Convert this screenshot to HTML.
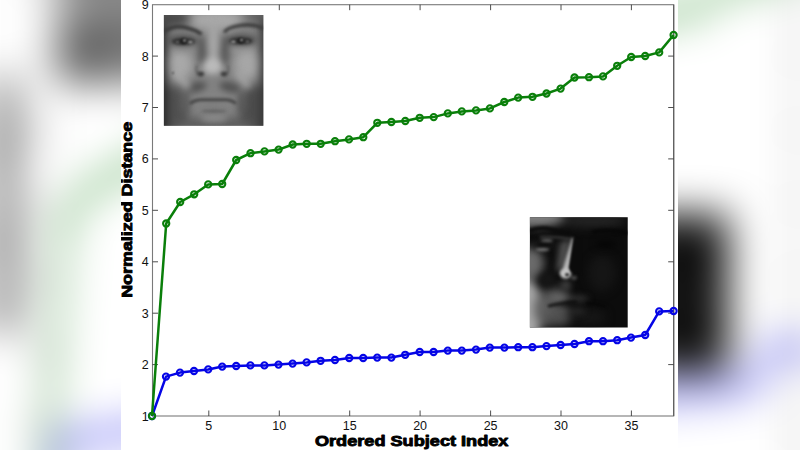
<!DOCTYPE html>
<html lang="en"><head><meta charset="utf-8"><title>Normalized Distance vs Ordered Subject Index</title>
<style>
html,body{margin:0;padding:0;background:#fff}
body{width:800px;height:450px;overflow:hidden;position:relative;font-family:"Liberation Sans",sans-serif}
.stage{position:absolute;left:0;top:0;width:800px;height:450px;overflow:hidden;background:#fff}
.bg{position:absolute;left:0;top:-98.2px;width:800px;height:646.3px;overflow:visible;filter:blur(21px);--lw:3.6;--mw:3}
.fg{position:absolute;left:121px;top:0;width:557px;height:450px;overflow:hidden}
</style></head>
<body>
<div class="stage">
<svg width="0" height="0" style="position:absolute"><defs>
<filter color-interpolation-filters="sRGB" id="b1" x="-20%" y="-20%" width="140%" height="140%"><feGaussianBlur color-interpolation-filters="sRGB" stdDeviation="1.6"/></filter>
<filter color-interpolation-filters="sRGB" id="b2" x="-20%" y="-20%" width="140%" height="140%"><feGaussianBlur color-interpolation-filters="sRGB" stdDeviation="3"/></filter>
<filter color-interpolation-filters="sRGB" id="b3" x="-20%" y="-20%" width="140%" height="140%"><feGaussianBlur color-interpolation-filters="sRGB" stdDeviation="5"/></filter>
<filter color-interpolation-filters="sRGB" id="b0" x="-20%" y="-20%" width="140%" height="140%"><feGaussianBlur color-interpolation-filters="sRGB" stdDeviation="0.8"/></filter>
<clipPath id="c1"><rect x="0" y="0" width="99.4" height="110.6"/></clipPath>
<clipPath id="c2"><rect x="0" y="0" width="97.8" height="110.4"/></clipPath>
<g id="chart">
<rect x="0" y="-1" width="557" height="452" fill="#fff"/>
<g transform="translate(42.9,15.1)"><g clip-path="url(#c1)">
<rect x="-2" y="-2" width="104" height="115" fill="#828282"/>
<g filter="url(#b3)">
<ellipse cx="52" cy="5" rx="26" ry="11" fill="#a8a8a8"/>
<ellipse cx="16" cy="49" rx="13" ry="16" fill="#a8a8a8"/>
<ellipse cx="83" cy="49" rx="13" ry="16" fill="#a6a6a6"/>
<ellipse cx="8" cy="94" rx="17" ry="24" fill="#505050"/>
<ellipse cx="92" cy="94" rx="17" ry="24" fill="#4c4c4c"/>
<ellipse cx="50" cy="109" rx="40" ry="6.5" fill="#585858"/>
<rect x="-9" y="-5" width="12" height="125" fill="#242424"/>
<rect x="96.5" y="-5" width="12" height="125" fill="#343434"/>
<ellipse cx="4" cy="3" rx="22" ry="9" fill="#484848"/>
<ellipse cx="96" cy="1" rx="14" ry="6" fill="#5c5c5c"/>
</g>
<g filter="url(#b2)">
<ellipse cx="49.5" cy="28" rx="5.5" ry="20" fill="#a6a6a6"/>
<ellipse cx="38" cy="36" rx="3.8" ry="15" fill="#565656"/>
<ellipse cx="61" cy="36" rx="3.8" ry="15" fill="#565656"/>
<ellipse cx="48.5" cy="51" rx="10" ry="8.5" fill="#bababa"/>
<ellipse cx="19" cy="25.5" rx="15" ry="5.5" fill="#4c4c4c"/>
<ellipse cx="78" cy="25" rx="15" ry="5.5" fill="#4c4c4c"/>
<ellipse cx="32" cy="72" rx="11" ry="5" fill="#525252" transform="rotate(-14 32 72)"/><ellipse cx="66" cy="72" rx="11" ry="5" fill="#525252" transform="rotate(14 66 72)"/>
<path d="M12 58 L26 73" stroke="#a8a8a8" stroke-width="4.5" fill="none"/><path d="M22 78 Q19 86 20 96" stroke="#5e5e5e" stroke-width="6" fill="none"/>
<path d="M73 57 L85 72" stroke="#a8a8a8" stroke-width="4.5" fill="none"/><path d="M77 78 Q80 86 79 96" stroke="#5a5a5a" stroke-width="6" fill="none"/>
<ellipse cx="50" cy="103" rx="14" ry="4.5" fill="#8a8a8a"/><ellipse cx="49" cy="90" rx="15" ry="2.6" fill="#7c7c7c"/>
<ellipse cx="49" cy="80.5" rx="19" ry="2.6" fill="#848484"/>
<ellipse cx="20" cy="35" rx="12" ry="2.5" fill="#8e8e8e"/>
<ellipse cx="78" cy="34.5" rx="12" ry="2.5" fill="#9a9a9a"/>
</g>
<g filter="url(#b1)">
<path d="M0 16.5 Q10 9.5 22 12.5 T37.5 19.5" stroke="#3a3a3a" stroke-width="3.8" fill="none"/>
<path d="M100 13.6 Q90 8 76 10.4 T60.5 17.5" stroke="#3e3e3e" stroke-width="3.8" fill="none"/>
<ellipse cx="19.5" cy="26.4" rx="11.5" ry="2.9" fill="#2a2a2a"/>
<ellipse cx="77" cy="25.8" rx="11.5" ry="2.9" fill="#2a2a2a"/>
<ellipse cx="36.5" cy="59" rx="3.6" ry="2.4" fill="#363636"/>
<ellipse cx="60.5" cy="59" rx="3.6" ry="2.4" fill="#363636"/>
<path d="M33 50 Q31 58 36 61" stroke="#555" stroke-width="1.6" fill="none"/>
<path d="M64 50 Q66 58 61 61" stroke="#555" stroke-width="1.6" fill="none"/>
<path d="M26 88.6 Q31 84.6 38 84.7 L61 84.7 Q68 84.6 72 88.6" stroke="#3a3a3a" stroke-width="2.6" fill="none"/>
<ellipse cx="50" cy="96" rx="13" ry="1.6" fill="#626262"/>
</g>
<g filter="url(#b0)">
<circle cx="19.7" cy="26" r="2.9" fill="#1c1c1c"/><circle cx="76.8" cy="25.5" r="2.9" fill="#1c1c1c"/>
<ellipse cx="26.5" cy="27" rx="2.4" ry="1.3" fill="#9a9a9a"/><ellipse cx="69.5" cy="26.6" rx="2.4" ry="1.3" fill="#9a9a9a"/>
<ellipse cx="13.5" cy="27" rx="1.8" ry="1.1" fill="#707070"/><ellipse cx="83.5" cy="26.6" rx="1.8" ry="1.1" fill="#707070"/>
<circle cx="20.6" cy="25.4" r="1.1" fill="#eee"/><circle cx="77.6" cy="24.9" r="1.1" fill="#eee"/>
<circle cx="9" cy="58" r="1.1" fill="#484848"/>
</g>
</g></g>
<g transform="translate(408.9,217.2)"><g clip-path="url(#c2)">
<rect x="-2" y="-2" width="102" height="115" fill="#0c0c0c"/>
<g filter="url(#b3)">
<ellipse cx="62" cy="3" rx="34" ry="7" fill="#242424"/>
<ellipse cx="72" cy="56" rx="14" ry="18" fill="#151515"/>
<ellipse cx="60" cy="100" rx="16" ry="8" fill="#161616"/>
<ellipse cx="4" cy="0" rx="30" ry="10" fill="#808080"/>
<ellipse cx="0" cy="46" rx="14" ry="16" fill="#6a6a6a"/>
<ellipse cx="-4" cy="94" rx="17" ry="32" fill="#a8a8a8"/>
<ellipse cx="16" cy="92" rx="12" ry="18" fill="#606060"/>
<ellipse cx="25" cy="78" rx="12" ry="8" fill="#505050"/>
<ellipse cx="27" cy="101" rx="14" ry="8" fill="#505050"/>
</g>
<g filter="url(#b2)">
<path d="M30 25 L41 22 L36 52 L26 54 Z" fill="#505050"/>
<ellipse cx="31" cy="80.5" rx="12" ry="3.2" fill="#6c6c6c"/><ellipse cx="47" cy="81.5" rx="12" ry="2.6" fill="#3a3a3a"/>
<ellipse cx="32" cy="94" rx="11" ry="3.4" fill="#585858"/><ellipse cx="46" cy="94" rx="10" ry="3" fill="#2c2c2c"/>
<ellipse cx="36" cy="68" rx="5" ry="5" fill="#444"/>
<ellipse cx="14" cy="27.5" rx="11" ry="4.5" fill="#1a1a1a"/>
<ellipse cx="18" cy="62" rx="8" ry="7" fill="#161616"/>
<ellipse cx="76" cy="27" rx="11" ry="4" fill="#060606"/>
</g>
<g filter="url(#b1)">
<path d="M-1 14 Q10 9.5 20 12 T38 17.5" stroke="#0c0c0c" stroke-width="4.6" fill="none"/>
<path d="M62 15 Q78 11 98 16" stroke="#070707" stroke-width="4" fill="none"/>
<path d="M10 20 Q24 18.6 40 22" stroke="#3a3a3a" stroke-width="2.2" fill="none"/><ellipse cx="17" cy="23.6" rx="6" ry="1.5" fill="#6a6a6a"/>
<ellipse cx="14.5" cy="27.3" rx="7.5" ry="2.7" fill="#0e0e0e"/>
<ellipse cx="12.5" cy="32.4" rx="7" ry="1.6" fill="#7a7a7a"/>
<path d="M18 89 Q30 86 47 84.5" stroke="#0c0c0c" stroke-width="2.6" fill="none"/>
<path d="M56 86 Q66 86 76 89" stroke="#060606" stroke-width="2.2" fill="none"/>
<path d="M42 20.5 L43.6 20.5 L39.2 52 L32.6 52.5 Z" fill="#b6b6b6"/>
<ellipse cx="35.6" cy="56" rx="5.8" ry="5.4" fill="#c4c4c4"/>
<ellipse cx="44" cy="60.5" rx="3" ry="2" fill="#4a4a4a"/>
</g>
<g filter="url(#b0)">
<ellipse cx="37.2" cy="57.6" rx="2.1" ry="1.8" fill="#2a2a2a"/>
<path d="M44.6 20 L39.6 50 L42 55 L52 56 L52 20 Z" fill="#0b0b0b"/>
</g>
</g></g>
<rect x="31.5" y="4.7" width="521.2" height="411.3" fill="none" stroke="#7a7a7a" stroke-width="1.1"/>
<path d="M552.7 4.7V416.0" stroke="#5a5a5a" stroke-width="1.1" fill="none"/>
<g stroke="#3a3a3a" stroke-width="0.9" fill="none"><path d="M87.8 416.0v-5.5M87.8 4.7v5.5"/><path d="M158.3 416.0v-5.5M158.3 4.7v5.5"/><path d="M228.7 416.0v-5.5M228.7 4.7v5.5"/><path d="M299.1 416.0v-5.5M299.1 4.7v5.5"/><path d="M369.6 416.0v-5.5M369.6 4.7v5.5"/><path d="M440.0 416.0v-5.5M440.0 4.7v5.5"/><path d="M510.4 416.0v-5.5M510.4 4.7v5.5"/><path d="M31.5 364.6h5.5M552.7 364.6h-5.5"/><path d="M31.5 313.2h5.5M552.7 313.2h-5.5"/><path d="M31.5 261.8h5.5M552.7 261.8h-5.5"/><path d="M31.5 210.3h5.5M552.7 210.3h-5.5"/><path d="M31.5 158.9h5.5M552.7 158.9h-5.5"/><path d="M31.5 107.5h5.5M552.7 107.5h-5.5"/><path d="M31.5 56.1h5.5M552.7 56.1h-5.5"/></g>
<polyline points="31.0,416.0 45.0,376.6 59.0,372.6 73.0,371.0 87.2,369.4 101.2,366.6 115.2,366.0 129.4,365.4 143.4,365.4 157.5,364.6 171.6,363.6 185.6,362.4 199.6,360.8 214.0,360.0 228.2,358.0 242.2,358.0 256.2,357.6 270.4,357.6 284.2,354.8 298.7,352.0 312.6,352.0 326.8,350.6 340.8,350.6 355.0,349.6 368.8,347.6 383.4,347.6 397.2,347.2 411.4,347.2 425.5,346.1 439.6,345.0 453.5,344.0 468.0,341.2 482.0,341.2 496.2,340.2 510.0,337.6 524.2,335.0 538.2,311.4 552.6,311.0" fill="none" stroke="#0505e6" style="stroke-width:var(--lw,2.5)" stroke-linejoin="round"/>
<circle cx="31.0" cy="416.0" r="3.1" fill="none" stroke="#0505e6" style="stroke-width:var(--mw,2.1)"/><circle cx="45.0" cy="376.6" r="3.1" fill="none" stroke="#0505e6" style="stroke-width:var(--mw,2.1)"/><circle cx="59.0" cy="372.6" r="3.1" fill="none" stroke="#0505e6" style="stroke-width:var(--mw,2.1)"/><circle cx="73.0" cy="371.0" r="3.1" fill="none" stroke="#0505e6" style="stroke-width:var(--mw,2.1)"/><circle cx="87.2" cy="369.4" r="3.1" fill="none" stroke="#0505e6" style="stroke-width:var(--mw,2.1)"/><circle cx="101.2" cy="366.6" r="3.1" fill="none" stroke="#0505e6" style="stroke-width:var(--mw,2.1)"/><circle cx="115.2" cy="366.0" r="3.1" fill="none" stroke="#0505e6" style="stroke-width:var(--mw,2.1)"/><circle cx="129.4" cy="365.4" r="3.1" fill="none" stroke="#0505e6" style="stroke-width:var(--mw,2.1)"/><circle cx="143.4" cy="365.4" r="3.1" fill="none" stroke="#0505e6" style="stroke-width:var(--mw,2.1)"/><circle cx="157.5" cy="364.6" r="3.1" fill="none" stroke="#0505e6" style="stroke-width:var(--mw,2.1)"/><circle cx="171.6" cy="363.6" r="3.1" fill="none" stroke="#0505e6" style="stroke-width:var(--mw,2.1)"/><circle cx="185.6" cy="362.4" r="3.1" fill="none" stroke="#0505e6" style="stroke-width:var(--mw,2.1)"/><circle cx="199.6" cy="360.8" r="3.1" fill="none" stroke="#0505e6" style="stroke-width:var(--mw,2.1)"/><circle cx="214.0" cy="360.0" r="3.1" fill="none" stroke="#0505e6" style="stroke-width:var(--mw,2.1)"/><circle cx="228.2" cy="358.0" r="3.1" fill="none" stroke="#0505e6" style="stroke-width:var(--mw,2.1)"/><circle cx="242.2" cy="358.0" r="3.1" fill="none" stroke="#0505e6" style="stroke-width:var(--mw,2.1)"/><circle cx="256.2" cy="357.6" r="3.1" fill="none" stroke="#0505e6" style="stroke-width:var(--mw,2.1)"/><circle cx="270.4" cy="357.6" r="3.1" fill="none" stroke="#0505e6" style="stroke-width:var(--mw,2.1)"/><circle cx="284.2" cy="354.8" r="3.1" fill="none" stroke="#0505e6" style="stroke-width:var(--mw,2.1)"/><circle cx="298.7" cy="352.0" r="3.1" fill="none" stroke="#0505e6" style="stroke-width:var(--mw,2.1)"/><circle cx="312.6" cy="352.0" r="3.1" fill="none" stroke="#0505e6" style="stroke-width:var(--mw,2.1)"/><circle cx="326.8" cy="350.6" r="3.1" fill="none" stroke="#0505e6" style="stroke-width:var(--mw,2.1)"/><circle cx="340.8" cy="350.6" r="3.1" fill="none" stroke="#0505e6" style="stroke-width:var(--mw,2.1)"/><circle cx="355.0" cy="349.6" r="3.1" fill="none" stroke="#0505e6" style="stroke-width:var(--mw,2.1)"/><circle cx="368.8" cy="347.6" r="3.1" fill="none" stroke="#0505e6" style="stroke-width:var(--mw,2.1)"/><circle cx="383.4" cy="347.6" r="3.1" fill="none" stroke="#0505e6" style="stroke-width:var(--mw,2.1)"/><circle cx="397.2" cy="347.2" r="3.1" fill="none" stroke="#0505e6" style="stroke-width:var(--mw,2.1)"/><circle cx="411.4" cy="347.2" r="3.1" fill="none" stroke="#0505e6" style="stroke-width:var(--mw,2.1)"/><circle cx="425.5" cy="346.1" r="3.1" fill="none" stroke="#0505e6" style="stroke-width:var(--mw,2.1)"/><circle cx="439.6" cy="345.0" r="3.1" fill="none" stroke="#0505e6" style="stroke-width:var(--mw,2.1)"/><circle cx="453.5" cy="344.0" r="3.1" fill="none" stroke="#0505e6" style="stroke-width:var(--mw,2.1)"/><circle cx="468.0" cy="341.2" r="3.1" fill="none" stroke="#0505e6" style="stroke-width:var(--mw,2.1)"/><circle cx="482.0" cy="341.2" r="3.1" fill="none" stroke="#0505e6" style="stroke-width:var(--mw,2.1)"/><circle cx="496.2" cy="340.2" r="3.1" fill="none" stroke="#0505e6" style="stroke-width:var(--mw,2.1)"/><circle cx="510.0" cy="337.6" r="3.1" fill="none" stroke="#0505e6" style="stroke-width:var(--mw,2.1)"/><circle cx="524.2" cy="335.0" r="3.1" fill="none" stroke="#0505e6" style="stroke-width:var(--mw,2.1)"/><circle cx="538.2" cy="311.4" r="3.1" fill="none" stroke="#0505e6" style="stroke-width:var(--mw,2.1)"/><circle cx="552.6" cy="311.0" r="3.1" fill="none" stroke="#0505e6" style="stroke-width:var(--mw,2.1)"/>
<polyline points="31.0,416.0 45.2,223.5 59.2,202.0 73.2,194.3 87.2,184.4 101.2,184.0 115.2,160.0 129.5,153.2 143.5,151.4 157.6,149.6 171.7,144.5 185.7,143.8 199.7,143.8 214.0,141.2 228.0,139.4 242.3,137.2 256.3,122.8 270.4,122.0 284.3,121.0 298.7,117.8 312.7,117.1 326.8,113.4 340.8,111.4 355.0,110.4 368.9,108.4 383.3,102.0 397.2,97.6 411.5,96.8 425.5,93.5 439.6,88.6 453.5,77.5 468.0,77.2 482.0,76.4 496.2,65.8 510.2,57.0 524.2,56.0 538.2,52.4 552.6,35.0" fill="none" stroke="#0a7f0a" style="stroke-width:var(--lw,2.5)" stroke-linejoin="round"/>
<circle cx="31.0" cy="416.0" r="3.1" fill="none" stroke="#0a7f0a" style="stroke-width:var(--mw,2.1)"/><circle cx="45.2" cy="223.5" r="3.1" fill="none" stroke="#0a7f0a" style="stroke-width:var(--mw,2.1)"/><circle cx="59.2" cy="202.0" r="3.1" fill="none" stroke="#0a7f0a" style="stroke-width:var(--mw,2.1)"/><circle cx="73.2" cy="194.3" r="3.1" fill="none" stroke="#0a7f0a" style="stroke-width:var(--mw,2.1)"/><circle cx="87.2" cy="184.4" r="3.1" fill="none" stroke="#0a7f0a" style="stroke-width:var(--mw,2.1)"/><circle cx="101.2" cy="184.0" r="3.1" fill="none" stroke="#0a7f0a" style="stroke-width:var(--mw,2.1)"/><circle cx="115.2" cy="160.0" r="3.1" fill="none" stroke="#0a7f0a" style="stroke-width:var(--mw,2.1)"/><circle cx="129.5" cy="153.2" r="3.1" fill="none" stroke="#0a7f0a" style="stroke-width:var(--mw,2.1)"/><circle cx="143.5" cy="151.4" r="3.1" fill="none" stroke="#0a7f0a" style="stroke-width:var(--mw,2.1)"/><circle cx="157.6" cy="149.6" r="3.1" fill="none" stroke="#0a7f0a" style="stroke-width:var(--mw,2.1)"/><circle cx="171.7" cy="144.5" r="3.1" fill="none" stroke="#0a7f0a" style="stroke-width:var(--mw,2.1)"/><circle cx="185.7" cy="143.8" r="3.1" fill="none" stroke="#0a7f0a" style="stroke-width:var(--mw,2.1)"/><circle cx="199.7" cy="143.8" r="3.1" fill="none" stroke="#0a7f0a" style="stroke-width:var(--mw,2.1)"/><circle cx="214.0" cy="141.2" r="3.1" fill="none" stroke="#0a7f0a" style="stroke-width:var(--mw,2.1)"/><circle cx="228.0" cy="139.4" r="3.1" fill="none" stroke="#0a7f0a" style="stroke-width:var(--mw,2.1)"/><circle cx="242.3" cy="137.2" r="3.1" fill="none" stroke="#0a7f0a" style="stroke-width:var(--mw,2.1)"/><circle cx="256.3" cy="122.8" r="3.1" fill="none" stroke="#0a7f0a" style="stroke-width:var(--mw,2.1)"/><circle cx="270.4" cy="122.0" r="3.1" fill="none" stroke="#0a7f0a" style="stroke-width:var(--mw,2.1)"/><circle cx="284.3" cy="121.0" r="3.1" fill="none" stroke="#0a7f0a" style="stroke-width:var(--mw,2.1)"/><circle cx="298.7" cy="117.8" r="3.1" fill="none" stroke="#0a7f0a" style="stroke-width:var(--mw,2.1)"/><circle cx="312.7" cy="117.1" r="3.1" fill="none" stroke="#0a7f0a" style="stroke-width:var(--mw,2.1)"/><circle cx="326.8" cy="113.4" r="3.1" fill="none" stroke="#0a7f0a" style="stroke-width:var(--mw,2.1)"/><circle cx="340.8" cy="111.4" r="3.1" fill="none" stroke="#0a7f0a" style="stroke-width:var(--mw,2.1)"/><circle cx="355.0" cy="110.4" r="3.1" fill="none" stroke="#0a7f0a" style="stroke-width:var(--mw,2.1)"/><circle cx="368.9" cy="108.4" r="3.1" fill="none" stroke="#0a7f0a" style="stroke-width:var(--mw,2.1)"/><circle cx="383.3" cy="102.0" r="3.1" fill="none" stroke="#0a7f0a" style="stroke-width:var(--mw,2.1)"/><circle cx="397.2" cy="97.6" r="3.1" fill="none" stroke="#0a7f0a" style="stroke-width:var(--mw,2.1)"/><circle cx="411.5" cy="96.8" r="3.1" fill="none" stroke="#0a7f0a" style="stroke-width:var(--mw,2.1)"/><circle cx="425.5" cy="93.5" r="3.1" fill="none" stroke="#0a7f0a" style="stroke-width:var(--mw,2.1)"/><circle cx="439.6" cy="88.6" r="3.1" fill="none" stroke="#0a7f0a" style="stroke-width:var(--mw,2.1)"/><circle cx="453.5" cy="77.5" r="3.1" fill="none" stroke="#0a7f0a" style="stroke-width:var(--mw,2.1)"/><circle cx="468.0" cy="77.2" r="3.1" fill="none" stroke="#0a7f0a" style="stroke-width:var(--mw,2.1)"/><circle cx="482.0" cy="76.4" r="3.1" fill="none" stroke="#0a7f0a" style="stroke-width:var(--mw,2.1)"/><circle cx="496.2" cy="65.8" r="3.1" fill="none" stroke="#0a7f0a" style="stroke-width:var(--mw,2.1)"/><circle cx="510.2" cy="57.0" r="3.1" fill="none" stroke="#0a7f0a" style="stroke-width:var(--mw,2.1)"/><circle cx="524.2" cy="56.0" r="3.1" fill="none" stroke="#0a7f0a" style="stroke-width:var(--mw,2.1)"/><circle cx="538.2" cy="52.4" r="3.1" fill="none" stroke="#0a7f0a" style="stroke-width:var(--mw,2.1)"/><circle cx="552.6" cy="35.0" r="3.1" fill="none" stroke="#0a7f0a" style="stroke-width:var(--mw,2.1)"/>
<g font-family="'Liberation Sans',sans-serif" font-size="12.5" fill="#111"><text x="87.8" y="430.1" text-anchor="middle">5</text><text x="158.3" y="430.1" text-anchor="middle">10</text><text x="228.7" y="430.1" text-anchor="middle">15</text><text x="299.1" y="430.1" text-anchor="middle">20</text><text x="369.6" y="430.1" text-anchor="middle">25</text><text x="440.0" y="430.1" text-anchor="middle">30</text><text x="510.4" y="430.1" text-anchor="middle">35</text><text x="27.6" y="420.5" text-anchor="end">1</text><text x="27.6" y="369.1" text-anchor="end">2</text><text x="27.6" y="317.7" text-anchor="end">3</text><text x="27.6" y="266.3" text-anchor="end">4</text><text x="27.6" y="214.8" text-anchor="end">5</text><text x="27.6" y="163.4" text-anchor="end">6</text><text x="27.6" y="112.0" text-anchor="end">7</text><text x="27.6" y="60.6" text-anchor="end">8</text><text x="27.6" y="9.2" text-anchor="end">9</text></g>
<g font-family="'Liberation Sans',sans-serif" font-weight="bold" font-size="14.8" fill="#000" stroke="#000" stroke-width="0.9" stroke-linejoin="round">
<text x="290.7" y="446.1" text-anchor="middle" textLength="193.5" lengthAdjust="spacingAndGlyphs">Ordered Subject Index</text>
<text transform="translate(11.1,209.8) rotate(-90)" text-anchor="middle" textLength="176" lengthAdjust="spacingAndGlyphs">Normalized Distance</text>
</g>
</g>
</defs></svg>
<svg class="bg" viewBox="0 0 557 450" preserveAspectRatio="none"><rect x="-300" y="-300" width="1200" height="1100" fill="#fff"/><use href="#chart" transform="scale(-1,1)" opacity="0.5"/><use href="#chart" transform="translate(1114,0) scale(-1,1)" opacity="0.5"/><use href="#chart"/></svg>
<svg class="fg" viewBox="0 0 557 450"><use href="#chart"/></svg>
</div>
</body></html>
